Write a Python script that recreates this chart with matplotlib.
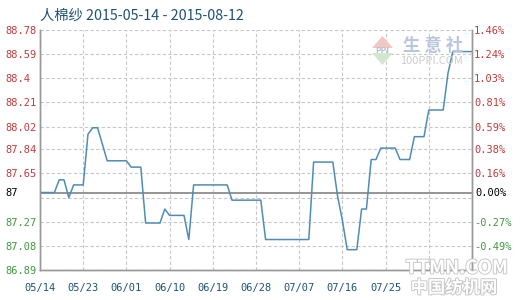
import matplotlib
matplotlib.use("Agg")
import matplotlib.pyplot as plt
import matplotlib.patheffects as pe
from matplotlib.patches import Polygon
import pandas as pd

plt.rcParams['font.family'] = ['Noto Sans CJK SC', 'DejaVu Sans']

# price series (vertices of the line)
dates = ['2015-05-14', '2015-05-17', '2015-05-18', '2015-05-19', '2015-05-20',
         '2015-05-21', '2015-05-23', '2015-05-24', '2015-05-25', '2015-05-26',
         '2015-05-28', '2015-06-01', '2015-06-02', '2015-06-04', '2015-06-05',
         '2015-06-08', '2015-06-09', '2015-06-10', '2015-06-13', '2015-06-14',
         '2015-06-15', '2015-06-22', '2015-06-23', '2015-06-29', '2015-06-30',
         '2015-07-09', '2015-07-10', '2015-07-14', '2015-07-15', '2015-07-16',
         '2015-07-17', '2015-07-19', '2015-07-20', '2015-07-21', '2015-07-22',
         '2015-07-23', '2015-07-24', '2015-07-27', '2015-07-28', '2015-07-30',
         '2015-07-31', '2015-08-02', '2015-08-03', '2015-08-06', '2015-08-07',
         '2015-08-08', '2015-08-12']
prices = [87.50, 87.50, 87.60, 87.60, 87.46,
          87.56, 87.56, 87.96, 88.01, 88.01,
          87.75, 87.75, 87.70, 87.70, 87.26,
          87.26, 87.37, 87.32, 87.32, 87.13,
          87.56, 87.56, 87.44, 87.44, 87.13,
          87.13, 87.74, 87.74, 87.47, 87.28,
          87.05, 87.05, 87.37, 87.37, 87.76,
          87.76, 87.85, 87.85, 87.76, 87.76,
          87.94, 87.94, 88.15, 88.15, 88.44,
          88.61, 88.61]

base = 87.5
base_label = '87'
y_ticks = [86.89, 87.08, 87.27, 87.46, 87.65, 87.84, 88.02, 88.21, 88.4, 88.59, 88.78]
y_labels = ['86.89', '87.08', '87.27', '', '87.65', '87.84', '88.02', '88.21', '88.4', '88.59', '88.78']
pct_labels = ['', '-0.49%', '-0.27%', '', '0.16%', '0.38%', '0.59%', '0.81%', '1.03%', '1.24%', '1.46%']
x_ticks = ['2015-05-14', '2015-05-23', '2015-06-01', '2015-06-10', '2015-06-19', '2015-06-28',
           '2015-07-07', '2015-07-16', '2015-07-25', '2015-08-03', '2015-08-12']
x_labels = ['05/14', '05/23', '06/01', '06/10', '06/19', '06/28', '07/07', '07/16', '07/25', '', '']

red = '#c23b3b'
green = '#3f9a3f'
navy = '#1f5272'

fig = plt.figure(figsize=(5.2, 3.0), dpi=100)
ax = fig.add_axes([40 / 520, 30 / 300, 432 / 520, 240 / 300])

x = pd.to_datetime(dates)
xt = pd.to_datetime(x_ticks)

ax.plot(x, prices, color='#4f8db3', linewidth=1.1, zorder=3)
ax.axhline(base, color='#8c8c8c', linewidth=1.3, zorder=2)

ax.set_xlim(pd.Timestamp('2015-05-14'), pd.Timestamp('2015-08-12'))
ax.set_ylim(y_ticks[0], y_ticks[-1])
ax.set_xticks(xt)
ax.set_xticklabels(x_labels)
ax.set_yticks(y_ticks)
ax.set_yticklabels(y_labels)
ax.grid(True, color='#c8c8c8', linestyle=(0, (3, 2)), linewidth=0.8)

mono = 'DejaVu Sans Mono'
ax.tick_params(axis='both', length=0)
ax.tick_params(axis='x', pad=9, labelsize=7.5, labelcolor=navy)
ax.tick_params(axis='y', pad=25, labelsize=7.5)
for lab in ax.get_xticklabels():
    lab.set_family(mono)
for v, lab in zip(y_ticks, ax.get_yticklabels()):
    lab.set_family(mono)
    lab.set_horizontalalignment('left')
    lab.set_color(red if v > base else green)
ax.text(-35 / 432, base, base_label, transform=ax.get_yaxis_transform(),
        ha='left', va='center', fontsize=7.5, family=mono, color='black')

ax2 = ax.twinx()
ax2.set_ylim(ax.get_ylim())
ax2.set_yticks(y_ticks)
ax2.set_yticklabels(pct_labels)
ax2.tick_params(axis='y', length=0, pad=1.5, labelsize=7.5)
for v, lab in zip(y_ticks, ax2.get_yticklabels()):
    lab.set_family(mono)
    lab.set_color(red if v > base else green)
ax2.text(1 + 3 / 432, base, '0.00%', transform=ax2.get_yaxis_transform(),
         ha='left', va='center', fontsize=7.5, family=mono, color='black')

for a in (ax, ax2):
    a.spines['top'].set_visible(False)
    for s in ('left', 'right', 'bottom'):
        a.spines[s].set_color('#999999')
        a.spines[s].set_linewidth(1.0)

fig.text(40 / 520, 1 - 16 / 300, '人棉纱 2015-05-14 - 2015-08-12', ha='left', va='center',
         fontsize=10.3, color=navy)

# watermarks
W, H = 520, 300
fig.patches.append(Polygon([(372 / W, 1 - 48 / H), (393 / W, 1 - 48 / H), (382.5 / W, 1 - 36 / H)],
                           closed=True, transform=fig.transFigure, facecolor='#f4c6c0',
                           edgecolor='none', zorder=4))
fig.patches.append(Polygon([(372 / W, 1 - 53 / H), (393 / W, 1 - 53 / H), (382.5 / W, 1 - 65 / H)],
                           closed=True, transform=fig.transFigure, facecolor='#cfe8cf',
                           edgecolor='none', zorder=4))
fig.text(382.5 / W, 1 - 50.5 / H, 'PPI', ha='center', va='center', fontsize=6,
         color='#b8c0d8', fontweight='bold', zorder=5)
fig.text(433 / W, 1 - 46 / H, '生 意 社', ha='center', va='center', fontsize=12.5,
         color='#bac6de', fontweight='bold')
fig.text(432 / W, 1 - 61 / H, '100PPI.COM', ha='center', va='center', fontsize=8,
         color='#cccccc')
stroke = [pe.withStroke(linewidth=1.3, foreground='#c4c4c4')]
fig.text(457 / W, 1 - 268 / H, 'TTMN.COM', ha='center', va='center', fontsize=13.5,
         color='white', fontweight='bold', style='italic', path_effects=stroke, zorder=5)
fig.text(454 / W, 1 - 288 / H, '中国纺机网', ha='center', va='center', fontsize=12.5,
         color='white', fontweight='bold', path_effects=stroke, zorder=5)

fig.savefig('out.png', dpi=100)
